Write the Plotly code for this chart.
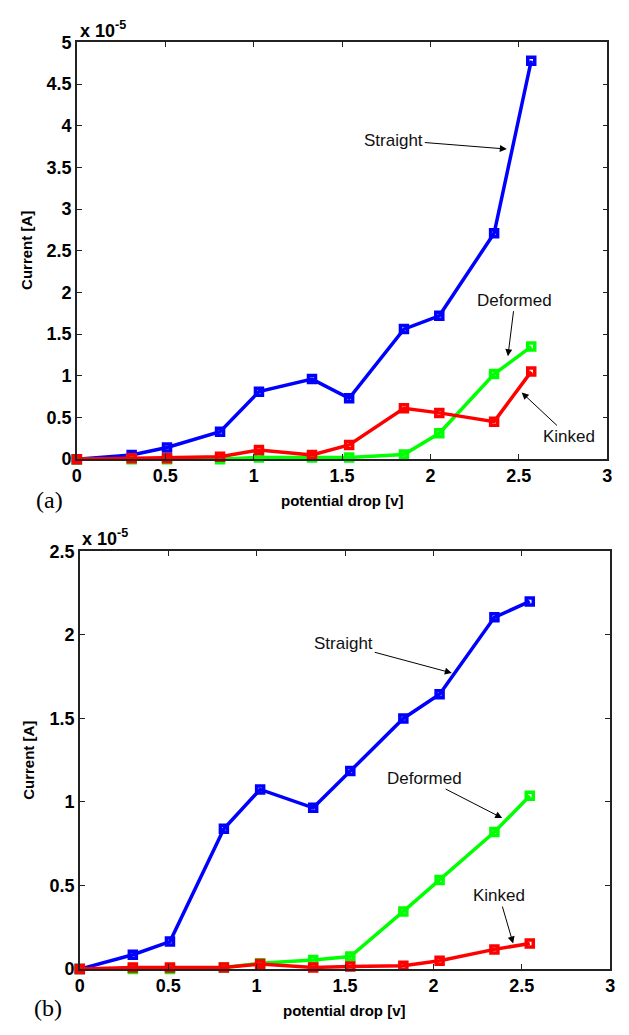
import plotly.graph_objects as go

# ---- data (current in units of 1e-5 A) ----
va = [0, 0.31, 0.51, 0.81, 1.03, 1.33, 1.54, 1.85, 2.05, 2.36, 2.57]
a_straight = [0, 0.05, 0.14, 0.33, 0.81, 0.96, 0.73, 1.56, 1.72, 2.71, 4.78]
a_deformed = [0, 0, 0, 0.0, 0.02, 0.02, 0.02, 0.055, 0.31, 1.02, 1.35]
a_kinked = [0, 0.01, 0.01, 0.03, 0.11, 0.05, 0.17, 0.61, 0.555, 0.45, 1.05]

vb = [0, 0.30, 0.51, 0.815, 1.02, 1.32, 1.53, 1.83, 2.035, 2.345, 2.545]
b_straight = [0, 0.086, 0.165, 0.84, 1.075, 0.965, 1.185, 1.50, 1.645, 2.105, 2.20]
b_deformed = [0, 0, 0, 0.01, 0.035, 0.055, 0.075, 0.345, 0.533, 0.82, 1.037]
b_kinked = [0, 0.01, 0.01, 0.01, 0.03, 0.01, 0.015, 0.02, 0.05, 0.118, 0.153]

series_names = ["Straight", "Deformed", "Kinked"]
colors = ["#0000FF", "#00FF00", "#FF0000"]

xticks = [0, 0.5, 1, 1.5, 2, 2.5, 3]
yticks_a = [0, 0.5, 1, 1.5, 2, 2.5, 3, 3.5, 4, 4.5, 5]
yticks_b = [0, 0.5, 1, 1.5, 2, 2.5]

# annotation anchor points (data units) and text offsets (px)
ann_a = [("Straight", 2.432, 3.72, -113, -9),
         ("Deformed", 2.438, 1.235, 7, -56),
         ("Kinked", 2.516, 0.80, 47, 44)]
ann_b = [("Straight", 2.104, 1.772, -108, -29),
         ("Deformed", 2.389, 0.904, -78, -40),
         ("Kinked", 2.451, 0.153, -14, -48)]

W, H = 629, 1035
fig = go.Figure()

def add_series(xs, ys_list, xa, ya):
    for name, ys, c in zip(series_names, ys_list, colors):
        fig.add_trace(go.Scatter(
            x=xs, y=ys, mode="lines+markers", name=name,
            xaxis=xa, yaxis=ya,
            line=dict(color=c, width=3.5),
            marker=dict(symbol="square-open", size=7, color=c,
                        line=dict(width=3.5, color=c)),
            showlegend=False, cliponaxis=False))

add_series(va, [a_straight, a_deformed, a_kinked], "x", "y")
add_series(vb, [b_straight, b_deformed, b_kinked], "x2", "y2")

def lab(v):
    return "<b>%g</b>" % v

tickfont = dict(family="Liberation Sans, Arial", size=18, color="black")
common_x = dict(range=[0, 3], tickvals=xticks, ticktext=[lab(v) for v in xticks],
                ticks="inside", ticklen=5,
                tickcolor="#222", showline=True, linecolor="#222", linewidth=1.5,
                mirror="ticks", showgrid=False, zeroline=False, tickfont=tickfont)
common_y = dict(ticks="inside", ticklen=5, tickcolor="#222", showline=True,
                linecolor="#222", linewidth=1.5, mirror="ticks", showgrid=False,
                zeroline=False, tickfont=tickfont, ticklabelstandoff=0)

def py(px):
    return 1 - px / H

fig.update_layout(
    width=W, height=H, margin=dict(l=0, r=0, t=0, b=0),
    plot_bgcolor="white", paper_bgcolor="white",
    xaxis=dict(domain=[73 / W, 612 / W], anchor="y", **common_x),
    yaxis=dict(domain=[py(458), py(33)], anchor="x", range=[0, 5],
               tickvals=yticks_a, ticktext=[lab(v) for v in yticks_a], **common_y),
    xaxis2=dict(domain=[76 / W, 615 / W], anchor="y2", **common_x),
    yaxis2=dict(domain=[py(978), py(552)], anchor="x2", range=[0, 2.5],
                tickvals=yticks_b, ticktext=[lab(v) for v in yticks_b], **common_y),
)

anns = []
for (lst, xr, yr) in [(ann_a, "x", "y"), (ann_b, "x2", "y2")]:
    for txt, x, y, ax, ay in lst:
        anns.append(dict(text=txt, x=x, y=y, xref=xr, yref=yr, ax=ax, ay=ay,
                         showarrow=True, arrowhead=2, arrowsize=1.4,
                         arrowwidth=1, arrowcolor="black",
                         font=dict(family="Liberation Sans, Arial", size=17,
                                   color="#111")))

bold = dict(family="Liberation Sans, Arial", size=15, color="black")
for (xc, yc) in [(343, 500), (345, 1020)]:
    anns.append(dict(text="<b>potential drop [v]</b>", x=xc / W, y=py(yc),
                     xref="paper", yref="paper", showarrow=False, font=bold,
                     xanchor="center", yanchor="middle"))
for (xc, yc) in [(22, 245), (24, 765)]:
    anns.append(dict(text="<b>Current [A]</b>", x=xc / W, y=py(yc),
                     xref="paper", yref="paper", showarrow=False, font=bold,
                     textangle=-90, xanchor="center", yanchor="middle"))
for (xl, yc) in [(74, 20), (76, 538)]:
    anns.append(dict(text="<b>x 10<sup>-5</sup></b>", x=xl / W, y=py(yc),
                     xref="paper", yref="paper", showarrow=False,
                     font=dict(family="Liberation Sans, Arial", size=18,
                               color="black"),
                     xanchor="left", yanchor="middle"))
for (lab_, xc, yc) in [("(a)", 45, 500), ("(b)", 44, 1018)]:
    anns.append(dict(text=lab_, x=xc / W, y=py(yc), xref="paper", yref="paper",
                     showarrow=False,
                     font=dict(family="Liberation Serif, Times New Roman",
                               size=24, color="black"),
                     xanchor="center", yanchor="middle"))

fig.update_layout(annotations=anns)
fig.write_html("out.html")
